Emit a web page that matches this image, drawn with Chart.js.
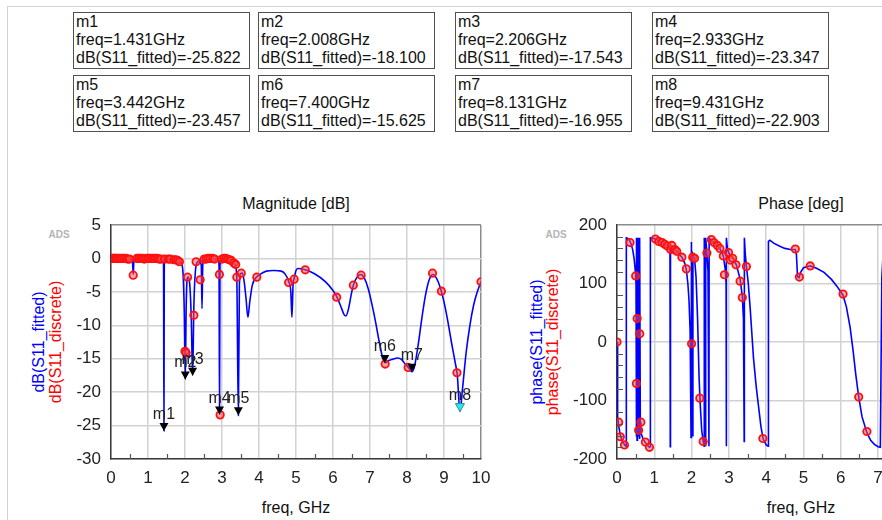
<!DOCTYPE html>
<html>
<head>
<meta charset="utf-8">
<script src="https://cdn.jsdelivr.net/npm/chart.js@4.4.1/dist/chart.umd.min.js"></script>
<style>
  html, body { margin: 0; padding: 0; width: 882px; height: 520px; overflow: hidden; background: #fff; }
  body { position: relative; font-family: "Liberation Sans", Arial, sans-serif; color: #111; }
  .frame { position: absolute; left: 7px; top: 6px; width: 1000px; height: 600px; border-left: 1px solid #d4d4d4; border-top: 1px solid #d4d4d4; }
  .mk { position: absolute; width: 177px; height: 57px; border: 1px solid #505050; box-sizing: border-box; padding: 0 0 0 2px; font-size: 16px; line-height: 17.8px; white-space: nowrap; color: #111; }
  .txt { position: absolute; white-space: nowrap; font-size: 16px; line-height: 18px; color: #111; transform: translate(-50%, -50%); }
  .rot { transform: translate(-50%, -50%) rotate(-90deg); }
  .ads { position: absolute; font-size: 10px; font-weight: bold; color: #b4b4b4; transform: translate(-50%, -50%); }
  canvas { position: absolute; }
</style>
</head>
<body>
<div class="frame"></div>
<div id="boxes"></div>

<div class="txt" style="left:296px; top:204px;">Magnitude [dB]</div>
<div class="txt" style="left:801px; top:204px;">Phase [deg]</div>
<div class="ads" style="left:59px; top:234px;">ADS</div>
<div class="ads" style="left:556px; top:234px;">ADS</div>
<div class="txt rot" style="left:39px; top:342px; color:#0000ff;">dB(S11_fitted)</div>
<div class="txt rot" style="left:56px; top:342px; color:#ff0000;">dB(S11_discrete)</div>
<div class="txt rot" style="left:537px; top:342px; color:#0000ff;">phase(S11_fitted)</div>
<div class="txt rot" style="left:553px; top:342px; color:#ff0000;">phase(S11_discrete)</div>
<div class="txt" style="left:296px; top:508px;">freq, GHz</div>
<div class="txt" style="left:801px; top:508px;">freq, GHz</div>

<canvas id="mag" width="500" height="330" style="left:0px; top:190px;"></canvas>
<canvas id="phase" width="500" height="330" style="left:510px; top:190px;"></canvas>

<script>
// markers
const markerNames = ['m1', 'm2', 'm3', 'm4', 'm5', 'm6', 'm7', 'm8'];
const markerFreq = [1.431, 2.008, 2.206, 2.933, 3.442, 7.400, 8.131, 9.431];
const markerDb = [-25.822, -18.100, -17.543, -23.347, -23.457, -15.625, -16.955, -22.903];

// magnitude, fitted (blue line)
const magFitFreq = [0, 0.3, 0.55, 0.58, 0.6, 0.62, 0.65, 1.0, 1.4, 1.42, 1.431, 1.44, 1.46, 1.7, 1.85, 1.9,
  1.95, 1.98, 2.008, 2.03, 2.06, 2.09, 2.13, 2.17, 2.206, 2.24, 2.28, 2.33, 2.38, 2.44, 2.46, 2.48, 2.52,
  2.9, 2.92, 2.933, 2.945, 2.97, 3.2, 3.3, 3.36, 3.4, 3.442, 3.47, 3.5, 3.55, 3.6, 3.65, 3.7, 3.75, 3.82,
  3.9, 4.0, 4.2, 4.4, 4.6, 4.7, 4.8, 4.86, 4.89, 4.92, 4.95, 5.0, 5.05, 5.25, 5.5, 5.8, 6.0, 6.1, 6.2,
  6.3, 6.35, 6.42, 6.5, 6.55, 6.65, 6.75, 6.85, 6.95, 7.05, 7.15, 7.25, 7.35, 7.42, 7.5, 7.6, 7.75, 7.85,
  7.95, 8.05, 8.131, 8.2, 8.3, 8.4, 8.5, 8.6, 8.7, 8.8, 8.9, 9.0, 9.1, 9.2, 9.3, 9.36, 9.431, 9.5, 9.6,
  9.7, 9.8, 9.9, 10.0];
const magFitDb = [-0.1, -0.15, -0.2, -0.4, -2.4, -0.4, -0.2, -0.15, -0.2, -1, -25.8, -1, -0.2, -0.2, -0.4, -0.7,
  -2.5, -8, -18.1, -8, -3, -2.8, -4, -9, -17.5, -7, -2, -0.6, -0.4, -1, -7.5, -1, -0.2,
  -0.1, -1, -23.3, -1, -0.1, -0.2, -0.5, -1, -3, -23.5, -4, -2.3, -2.2, -3.5, -6, -8.8, -6.5, -4,
  -3, -2.5, -1.9, -1.8, -1.9, -2.3, -3.4, -5, -8.8, -4, -3, -1.8, -1.5, -1.7, -2.3, -3.5, -4.8, -5.7, -7,
  -8.4, -8.6, -7.5, -5.2, -4, -2.8, -2.4, -3, -4.5, -6.8, -9.5, -12.5, -15, -15.6, -15.3, -15.1, -14.9, -15.1,
  -15.8, -16.4, -16.95, -16.2, -13, -9, -5.5, -3.2, -2.4, -3, -4.4, -6.5, -9.3, -12.5, -15.5, -17.5, -22.9, -19.5, -14,
  -10, -7, -5, -3.5];

// magnitude, discrete (red points)
const magDiscFreq = [0, 0.03, 0.06, 0.09, 0.12, 0.15, 0.2, 0.25, 0.3, 0.35, 0.4, 0.45, 0.5, 0.6, 0.7, 0.75,
  0.8, 0.85, 0.9, 0.95, 1.0, 1.05, 1.1, 1.15, 1.2, 1.25, 1.3, 1.35, 1.45, 1.55, 1.6, 1.7, 1.75, 1.8, 1.85,
  2.0, 2.03, 2.07, 2.24, 2.3, 2.41, 2.52, 2.57, 2.62, 2.68, 2.75, 2.8, 2.93, 2.95, 3.0, 3.05, 3.1, 3.15,
  3.2, 3.25, 3.32, 3.37, 3.4, 3.52, 3.94, 4.8, 4.95, 5.25, 6.1, 6.55, 6.76, 7.41, 8.03, 8.69, 8.93, 9.35, 10.0];
const magDiscDb = [0, 0, 0, 0, 0, 0, 0, 0, 0, 0, 0, -0.1, -0.1, -2.5, 0, 0,
  0, 0, -0.1, 0, 0, 0, 0, 0, 0, 0, -0.1, -0.1, -0.1, -0.1, -0.1, -0.2, -0.2, -0.3, -0.5,
  -13.9, -14.1, -2.8, -8.5, -0.5, -3.2, -0.1, -0.1, 0, 0, 0, -0.1, -2.4, -23.4, -0.1, 0, 0, -0.1,
  -0.2, -0.3, -0.7, -0.9, -2.8, -2.2, -2.8, -3.6, -3.1, -1.7, -5.8, -4, -2.5, -15.8, -16.3, -2.2, -4.9, -17.1, -3.5];

// phase, fitted (blue line)
const phaseFitFreq = [0, 0.008, 0.025, 0.05, 0.09, 0.15, 0.22, 0.245, 0.25, 0.29, 0.33, 0.37, 0.42, 0.46, 0.49,
  0.51, 0.515, 0.52, 0.532, 0.537, 0.541, 0.552, 0.557, 0.57, 0.575, 0.58, 0.6, 0.605, 0.61, 0.625, 0.64,
  0.7, 0.76, 0.82, 0.87, 0.89, 0.895, 0.93, 1.03, 1.21, 1.35, 1.42, 1.428, 1.434, 1.47, 1.6, 1.74, 1.82,
  1.86, 1.9, 1.93, 1.96, 1.985, 1.99, 2.0, 2.03, 2.035, 2.08, 2.12, 2.16, 2.2, 2.23, 2.27, 2.31, 2.335,
  2.34, 2.37, 2.375, 2.38, 2.41, 2.44, 2.465, 2.47, 2.5, 2.55, 2.65, 2.75, 2.85, 2.9, 2.925, 2.93, 2.935,
  2.96, 3.0, 3.1, 3.2, 3.3, 3.36, 3.39, 3.41, 3.415, 3.44, 3.47, 3.52, 3.57, 3.62, 3.66, 3.73, 3.8, 3.86,
  3.92, 4.0, 4.05, 4.06, 4.1, 4.2, 4.35, 4.5, 4.65, 4.78, 4.81, 4.84, 4.88, 4.93, 5.0, 5.18, 5.35, 5.55,
  5.75, 5.9, 6.06, 6.15, 6.25, 6.33, 6.4, 6.48, 6.57, 6.7, 6.8, 6.9, 7.0, 7.06, 7.1, 7.15, 7.3];
const phaseFitDeg = [0, -90, -128, -145, -160, -171, -177, -179, 178, 177, 174, 169, 158, 142, 122,
  100, -162, 178, 40, -168, 178, -150, 178, -70, -162, 178, 14, -166, 178, -137, -155,
  -166, -172, -177, -180, -179, 178, 178, 176, 170, 164, 160, -179, 165, 163, 155, 145, 134,
  123, 100, 72, 20, -163, 171, -4, -160, 150, 143, 110, 40, -60, -105, -150, -170, -178,
  178, 165, -178, 178, 152, 120, -178, 178, 176, 173, 168, 161, 147, 125, 100, -178, 178,
  160, 152, 143, 132, 108, 78, 40, -170, 178, 150, 129, 100, 58, 10, -28, -75, -113, -145,
  -166, -176, -178, 172, 174, 169, 164, 160, 158, 158, 150, 112, 110, 120, 127, 130, 126, 119,
  107, 95, 80, 60, 25, -15, -55, -94, -128, -155, -168, -175, -179, -180, 110, 170, 160];

// phase, discrete (red points)
const phaseDiscFreq = [0, 0.045, 0.09, 0.2, 0.35, 0.5, 0.52, 0.54, 0.58, 0.61, 0.64, 0.76, 0.87, 1.03, 1.12,
  1.21, 1.28, 1.35, 1.44, 1.47, 1.55, 1.6, 1.74, 1.86, 2.0, 2.03, 2.08, 2.22, 2.31, 2.41, 2.53, 2.6,
  2.69, 2.76, 2.85, 2.88, 2.99, 3.04, 3.1, 3.19, 3.3, 3.36, 3.47, 3.91, 4.78, 4.89, 5.18, 6.06, 6.48, 6.7];
const phaseDiscDeg = [0, -137, -162, -176, 170, 113, -71, 40, -151, 14, -137, -171, -180, 176, 172,
  170, 167, 164, 158, 165, 158, 155, 145, 125, -3, 145, 143, -96, -170, 152, 175, 170,
  165, 160, 147, 115, 153, 140, 143, 132, 104, 76, 129, -165, 159, 111, 130, 82, -94, -153];

const toPts = (xs, ys) => xs.map((v, i) => ({ x: v, y: ys[i] }));

// small inward tick marks between the major grid lines
function minorTicks(xStep, yStep, yMajor) {
  return {
    id: 'minorTicks',
    afterDatasetsDraw(chart) {
      const { ctx, chartArea: a, scales: { x, y } } = chart;
      ctx.save();
      ctx.strokeStyle = '#555';
      ctx.lineWidth = 1.2;
      ctx.beginPath();
      if (xStep) {
        for (let v = x.min + xStep; v < x.max; v += xStep) {
          if (Math.abs(v - Math.round(v)) < 1e-6) continue;
          const px = Math.round(x.getPixelForValue(v)) + 0.5;
          ctx.moveTo(px, a.bottom); ctx.lineTo(px, a.bottom - 5);
        }
      }
      if (yStep) {
        for (let v = y.min + yStep; v < y.max; v += yStep) {
          if (Math.abs(v % yMajor) < 1e-6) continue;
          const py = Math.round(y.getPixelForValue(v)) + 0.5;
          ctx.moveTo(a.left, py); ctx.lineTo(a.left + 6, py);
        }
      }
      ctx.stroke();
      ctx.restore();
    }
  };
}

const markerPlugin = {
  id: 'markers',
  afterDatasetsDraw(chart) {
    const { ctx, scales: { x, y } } = chart;
    ctx.save();
    markerNames.forEach((name, i) => {
      const px = x.getPixelForValue(markerFreq[i]);
      const py = y.getPixelForValue(markerDb[i]);
      ctx.beginPath();
      ctx.moveTo(px - 4.5, py - 8);
      ctx.lineTo(px + 4.5, py - 8);
      ctx.lineTo(px, py);
      ctx.closePath();
      ctx.fillStyle = name === 'm8' ? '#30e6e6' : '#000';
      ctx.fill();
      if (name === 'm8') { ctx.strokeStyle = '#1a9a9a'; ctx.lineWidth = 1; ctx.stroke(); }
      ctx.fillStyle = '#222';
      ctx.font = '16px "Liberation Sans", Arial, sans-serif';
      ctx.textAlign = 'center';
      ctx.textBaseline = 'alphabetic';
      ctx.fillText(name, px, py - 12);
    });
    ctx.restore();
  }
};

function axes(xMax, yMin, yMax, yStep, yWidth) {
  const tickFont = { family: '"Liberation Sans", Arial, sans-serif', size: 17 };
  return {
    x: {
      type: 'linear', min: 0, max: xMax,
      ticks: { stepSize: 1, font: tickFont, color: '#222', padding: 9, maxRotation: 0 },
      grid: { drawTicks: false, lineWidth: 1.5, color: c => (c.tick && c.tick.value === xMax) ? '#8c8c8c' : '#d2d2d2' },
      border: { color: '#3a3a3a', width: 1.5 },
      afterFit: s => { s.height = 61; }
    },
    y: {
      type: 'linear', min: yMin, max: yMax,
      ticks: { stepSize: yStep, font: tickFont, color: '#222', padding: 10 },
      grid: { drawTicks: false, lineWidth: 1.5, color: c => (c.tick && c.tick.value === yMax) ? '#8c8c8c' : '#d2d2d2' },
      border: { color: '#3a3a3a', width: 1.5 },
      afterFit: s => { s.width = yWidth; }
    }
  };
}

function datasets(fitX, fitY, discX, discY, monotone) {
  return [
    {
      label: 'discrete', data: toPts(discX, discY), showLine: false, order: 0,
      pointRadius: 3.7, pointBorderWidth: 1.8,
      pointBackgroundColor: 'rgba(255,80,80,0.5)', pointBorderColor: '#ff1010'
    },
    {
      label: 'fitted', data: toPts(fitX, fitY), order: 1,
      borderColor: '#0000ff', borderWidth: 1.6, pointRadius: 0,
      cubicInterpolationMode: monotone ? 'monotone' : 'default', tension: 0
    }
  ];
}

const common = {
  responsive: false, animation: false,
  plugins: { legend: { display: false }, tooltip: { enabled: false } }
};

new Chart(document.getElementById('mag'), {
  type: 'line',
  data: { datasets: datasets(magFitFreq, magFitDb, magDiscFreq, magDiscDb, true) },
  options: { ...common, layout: { padding: { top: 35, left: 0, right: 19, bottom: 0 } },
    scales: axes(10, -30, 5, 5, 111) },
  plugins: [minorTicks(0.5, 0, 1), markerPlugin]
});

new Chart(document.getElementById('phase'), {
  type: 'line',
  data: { datasets: datasets(phaseFitFreq, phaseFitDeg, phaseDiscFreq, phaseDiscDeg, false) },
  options: { ...common, layout: { padding: { top: 35, left: 0, right: 20, bottom: 0 } },
    scales: axes(10, -200, 200, 100, 107) },
  plugins: [minorTicks(0.5, 20, 100)]
});

// marker readout boxes
const boxLeft = [73, 258, 455, 652];
const boxTop = [12, 75];
const boxes = document.getElementById('boxes');
markerNames.forEach((name, i) => {
  const d = document.createElement('div');
  d.className = 'mk';
  d.style.left = boxLeft[i % 4] + 'px';
  d.style.top = boxTop[Math.floor(i / 4)] + 'px';
  d.innerHTML = name + '<br>freq=' + markerFreq[i].toFixed(3) + 'GHz<br>dB(S11_fitted)=' + markerDb[i].toFixed(3);
  boxes.appendChild(d);
});
</script>
</body>
</html>
